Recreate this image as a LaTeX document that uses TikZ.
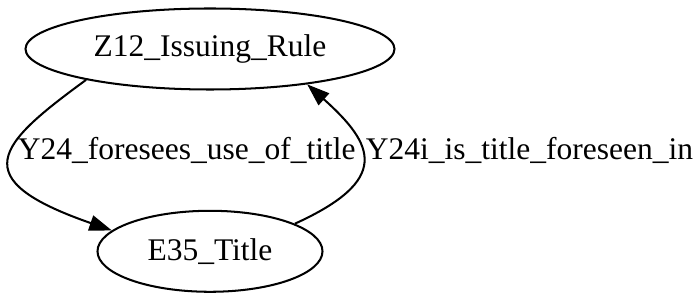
\documentclass[tikz,border=0pt]{standalone}
\usepackage{fontspec}
\setmainfont{Liberation Serif}
\usetikzlibrary{arrows.meta, positioning, shapes.geometric}
\tikzset{
  cls/.style={ellipse, draw=black, line width=0.9pt, inner sep=0pt,
    minimum height=36pt, font=\fontsize{14pt}{16pt}\selectfont},
  rel/.style={-{Triangle[length=10pt, width=7pt]}, line width=0.9pt, black},
  lbl/.style={anchor=west, inner sep=3pt, font=\fontsize{14pt}{16pt}\selectfont},
}

\begin{document}
\begin{tikzpicture}[x=0.4444pt, y=0.4444pt]
    \useasboundingbox (0,0) rectangle (700,300);
    \node[cls, minimum width=164pt] (z12) at (210,251) {Z12\_Issuing\_Rule};
    \node[cls, minimum width=100pt, below=53pt of z12] (e35) {E35\_Title};
    % rule -> title, bending out to the left
    \draw[rel] (z12.194) .. controls (-3,155) and (-36,121) .. (e35.168)
      node[lbl, midway, yshift=4.5pt] {Y24\_foresees\_use\_of\_title};
    % title -> rule, bending out to the right
    \draw[rel] (e35.18) .. controls (391,120) and (375,155) .. (z12.340)
      node[lbl, midway, inner sep=1pt, yshift=4.5pt] {Y24i\_is\_title\_foreseen\_in};
  \end{tikzpicture}
\end{document}
